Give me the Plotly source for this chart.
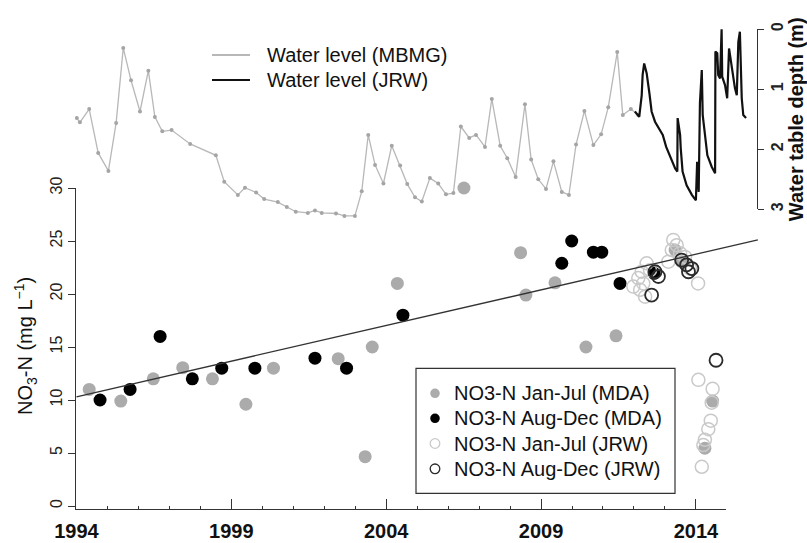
import plotly.graph_objects as go

# ---------------- data ----------------
# Water level, MBMG well (year, depth to water in m)
mbmg_year = [1994.01, 1994.11, 1994.41, 1994.70, 1995.03, 1995.28, 1995.51, 1995.76, 1996.05, 1996.32,
             1996.53, 1996.77, 1997.07, 1997.67, 1998.50, 1998.77, 1999.21, 1999.44, 1999.80, 2000.06,
             2000.50, 2000.79, 2001.08, 2001.47, 2001.70, 2001.92, 2002.38, 2002.65, 2002.99, 2003.21,
             2003.42, 2003.64, 2003.91, 2004.18, 2004.45, 2004.68, 2004.93, 2005.15, 2005.41, 2005.68,
             2005.93, 2006.17, 2006.41, 2006.68, 2006.90, 2007.19, 2007.41, 2007.68, 2007.91, 2008.18,
             2008.48, 2008.68, 2008.91, 2009.16, 2009.40, 2009.67, 2009.90, 2010.13, 2010.40, 2010.69,
             2010.94, 2011.17, 2011.46, 2011.64, 2011.90, 2012.14]
mbmg_depth = [1.48, 1.55, 1.33, 2.06, 2.36, 1.56, 0.31, 0.85, 1.37, 0.69,
              1.46, 1.70, 1.68, 1.91, 2.10, 2.54, 2.76, 2.64, 2.72, 2.83,
              2.88, 2.96, 3.04, 3.06, 3.02, 3.06, 3.07, 3.11, 3.11, 2.70,
              1.76, 2.26, 2.57, 1.94, 2.27, 2.58, 2.80, 2.87, 2.48, 2.57,
              2.75, 2.73, 1.62, 1.81, 1.76, 1.96, 1.16, 1.94, 2.15, 2.46,
              1.25, 2.17, 2.50, 2.66, 2.20, 2.71, 2.76, 1.92, 1.36, 1.93,
              1.75, 1.30, 0.38, 1.43, 1.33, 1.43]

# Water level, JRW logger
jrw_year = [2012.03, 2012.17, 2012.25, 2012.28, 2012.33, 2012.41, 2012.50, 2012.57, 2012.68, 2012.84,
            2012.93, 2013.04, 2013.16, 2013.33, 2013.40, 2013.41, 2013.49, 2013.51, 2013.57, 2013.70,
            2013.87, 2014.00, 2014.04, 2014.09, 2014.13, 2014.19, 2014.22, 2014.30, 2014.37, 2014.51,
            2014.62, 2014.63, 2014.69, 2014.72, 2014.78, 2014.83, 2014.85, 2014.94, 2015.01, 2015.07,
            2015.16, 2015.26, 2015.32, 2015.37, 2015.42, 2015.45, 2015.48, 2015.53, 2015.62]
jrw_depth = [1.37, 1.46, 1.10, 0.76, 0.57, 0.73, 1.07, 1.37, 1.54, 1.68,
             1.76, 1.96, 2.10, 2.32, 2.37, 1.48, 1.76, 1.98, 2.37, 2.60,
             2.76, 2.85, 2.21, 2.71, 1.23, 0.68, 1.43, 1.82, 2.10, 2.29,
             2.40, 0.37, 0.40, 0.76, 0.82, 0.00, 0.79, 0.93, 1.15, 0.32,
             0.65, 0.98, 1.10, 0.21, 0.04, 0.60, 1.15, 1.43, 1.48]

# NO3-N (mg/L)
mda_jj_year = [1994.41, 1995.43, 1996.48, 1997.43, 1998.39, 1999.47, 2000.36, 2002.45, 2003.32, 2003.55,
               2004.36, 2006.51, 2008.34, 2008.51, 2009.45, 2010.45, 2011.42, 2013.33, 2013.54, 2015.37,
               2014.54, 2014.29]
mda_jj_val = [11.0, 9.9, 12.0, 13.05, 12.0, 9.6, 13.0, 13.9, 4.65, 15.0,
              21.0, 30.0, 23.9, 19.9, 21.05, 15.0, 16.05, 24.15, 23.05, 21.05,
              9.9, 5.45]

mda_ad_year = [1994.76, 1995.73, 1996.70, 1997.74, 1998.69, 1999.76, 2001.70, 2002.72, 2004.54, 2009.67,
               2009.99, 2010.69, 2010.96, 2011.55, 2012.65, 2015.62]
mda_ad_val = [10.0, 11.0, 16.0, 12.0, 13.0, 13.0, 13.95, 13.0, 18.0, 22.9,
              25.0, 23.95, 23.95, 21.0, 21.95, 19.9]

jrw_jj_year = [2012.41, 2012.25, 2012.52, 2012.14, 2012.30, 2011.98, 2012.20, 2012.36, 2013.27, 2013.38,
               2013.22, 2013.49, 2013.11, 2013.65, 2013.81, 2014.07, 2015.19, 2015.40, 2015.48, 2014.08,
               2014.54, 2014.51, 2014.48, 2014.40, 2014.29, 2014.24, 2014.19]
jrw_jj_val = [22.9, 22.1, 22.25, 21.5, 21.0, 20.7, 20.4, 19.75, 25.1, 24.6,
              24.15, 23.85, 23.05, 23.5, 22.4, 21.0, 18.9, 18.2, 17.0, 11.9,
              11.05, 9.75, 8.05, 7.25, 6.25, 5.75, 3.7]

jrw_ad_year = [2012.57, 2012.68, 2012.79, 2013.54, 2013.70, 2013.76, 2013.87, 2014.65, 2015.59]
jrw_ad_val = [19.9, 22.1, 21.65, 23.2, 22.75, 22.1, 22.4, 13.75, 20.55]

# linear trend of NO3-N
trend_year = [1994.0, 2016.0]
trend_val = [10.3, 25.1]

x_tick_years = [1994, 1999, 2004, 2009, 2014]
x_minor_years = [y for y in range(1995, 2014) if (y - 1994) % 5]
no3_ticks = [0, 5, 10, 15, 20, 25, 30]
depth_ticks = [0, 1, 2, 3]

# ---------------- layout geometry (pixels) ----------------
W, H = 807, 543
PX_1994, PX_PER_YR = 76.5, 30.97
def yr_at(px):
    return 1994 + (px - PX_1994) / PX_PER_YR
NO3_0_PX, PX_PER_MG = 506.0, 10.6
def no3_at(py):
    return (NO3_0_PX - py) / PX_PER_MG
D0_PX, PX_PER_M = 29.3, 60.0
def depth_at(py):
    return (py - D0_PX) / PX_PER_M
def fx(px):
    return px / W
def fy(py):
    return 1 - py / H

FONT = "Liberation Sans, Arial, sans-serif"
AX = "#333333"

MBMG_COLOR = "#b8b8b8"
JRW_COLOR = "#111111"

fig = go.Figure()

# water levels (top panel)
fig.add_trace(go.Scatter(x=mbmg_year, y=mbmg_depth, mode="lines+markers", name="Water level (MBMG)",
                         line=dict(color=MBMG_COLOR, width=1.3),
                         marker=dict(size=4, color="#a5a5a5"),
                         xaxis="x2", yaxis="y2", showlegend=False))
fig.add_trace(go.Scatter(x=jrw_year, y=jrw_depth, mode="lines", name="Water level (JRW)",
                         line=dict(color=JRW_COLOR, width=2.2),
                         xaxis="x2", yaxis="y2", showlegend=False))
# dummy for display depth axis
fig.add_trace(go.Scatter(x=[None], y=[None], xaxis="x2", yaxis="y3", showlegend=False, hoverinfo="skip"))

# trend line
fig.add_trace(go.Scatter(x=trend_year, y=trend_val, mode="lines", showlegend=False,
                         line=dict(color="#333333", width=1.3), xaxis="x2", yaxis="y"))

MS = 13
series = [
    (mda_jj_year, mda_jj_val, "NO3-N Jan-Jul (MDA)", "circle", "#ababab", 0),
    (mda_ad_year, mda_ad_val, "NO3-N Aug-Dec (MDA)", "circle", "#000000", 0),
    (jrw_jj_year, jrw_jj_val, "NO3-N Jan-Jul (JRW)", "circle-open", "#c9c9c9", 1.5),
    (jrw_ad_year, jrw_ad_val, "NO3-N Aug-Dec (JRW)", "circle-open", "#2a2a2a", 1.8),
]
for xs, ys, nm, sym, col, lw in series:
    fig.add_trace(go.Scatter(x=xs, y=ys, mode="markers", name=nm, showlegend=False,
                             marker=dict(size=MS, symbol=sym, color=col, line=dict(width=lw, color=col)),
                             cliponaxis=False, xaxis="x", yaxis="y"))

# ---------------- legends (drawn by hand) ----------------
shapes = []
annotations = []
# NO3 legend box
shapes.append(dict(type="rect", xref="paper", yref="paper", x0=fx(416), x1=fx(675), y0=fy(493.3), y1=fy(368.3),
                   fillcolor="white", line=dict(color=AX, width=1.2), layer="above"))
rows = [393.3, 418.3, 443.5, 468.8]
r = 4.8
for (xs, ys, nm, sym, col, lw), ry in zip(series, rows):
    filled = sym == "circle"
    shapes.append(dict(type="circle", xref="paper", yref="paper",
                       x0=fx(435 - r), x1=fx(435 + r), y0=fy(ry + r), y1=fy(ry - r),
                       fillcolor=col if filled else "rgba(0,0,0,0)",
                       line=dict(color=col, width=0 if filled else 1.3), layer="above"))
    annotations.append(dict(text=nm, xref="paper", yref="paper", x=fx(452), y=fy(ry),
                            xanchor="left", yanchor="middle", showarrow=False,
                            font=dict(size=20, color="#111111", family=FONT)))
# water level legend
for nm, col, ry in [("Water level (MBMG)", MBMG_COLOR, 55), ("Water level (JRW)", JRW_COLOR, 80)]:
    shapes.append(dict(type="line", xref="paper", yref="paper", x0=fx(212), x1=fx(250), y0=fy(ry), y1=fy(ry),
                       line=dict(color=col, width=2), layer="above"))
    annotations.append(dict(text=nm, xref="paper", yref="paper", x=fx(265), y=fy(ry),
                            xanchor="left", yanchor="middle", showarrow=False,
                            font=dict(size=20, color="#111111", family=FONT)))

# y-axis title (left)
annotations.append(dict(text="NO<sub>3</sub>-N (mg L<sup>\u22121</sup>)", xref="paper", yref="paper",
                        x=fx(25), y=fy(346), xanchor="center", yanchor="middle", textangle=-90,
                        showarrow=False, font=dict(size=20, color="#111111", family=FONT)))

fig.update_layout(
    width=W, height=H, autosize=False,
    margin=dict(l=0, r=0, t=0, b=0),
    paper_bgcolor="white", plot_bgcolor="rgba(0,0,0,0)",
    font=dict(family=FONT, color="#111111"),
    showlegend=False,
    shapes=shapes, annotations=annotations,
    xaxis=dict(domain=[fx(76), fx(726)], range=[yr_at(76), yr_at(726)], anchor="y",
               showline=True, linecolor=AX, linewidth=1.2, showgrid=False, zeroline=False,
               tickmode="array", tickvals=x_tick_years, ticks="inside", ticklen=10, tickcolor=AX,
               tickwidth=1.2, tickfont=dict(size=20, weight="bold", color="#111111"),
               ticklabelstandoff=4,
               minor=dict(tickmode="array", tickvals=x_minor_years, ticks="inside", ticklen=3,
                          tickcolor=AX, tickwidth=1, showgrid=False),
               automargin=False),
    xaxis2=dict(domain=[0, 1], range=[yr_at(0), yr_at(W)], anchor="y2", visible=False),
    yaxis=dict(domain=[fy(509.3), fy(188)], range=[no3_at(509.3), no3_at(188)], anchor="x",
               showline=True, linecolor=AX, linewidth=1.2, showgrid=False, zeroline=False,
               tickmode="array", tickvals=no3_ticks, ticks="outside", ticklen=7, tickcolor=AX,
               tickangle=-90, tickfont=dict(size=16, color="#222222"), ticklabelstandoff=0,
               automargin=False),
    yaxis2=dict(domain=[fy(226), fy(18)], range=[depth_at(226), depth_at(18)], anchor="x2",
                visible=False),
    yaxis3=dict(domain=[fy(209.3), fy(29.3)], range=[3, 0], anchor="free", position=756.7 / W,
                side="right", showline=True, linecolor=AX, linewidth=1.2, showgrid=False, zeroline=False,
                tickmode="array", tickvals=depth_ticks, ticks="outside", ticklen=6, tickcolor=AX,
                tickangle=-90, tickfont=dict(size=16, weight="bold", color="#222222"),
                title=dict(text="Water table depth (m)", font=dict(size=20, weight="bold"), standoff=4),
                automargin=False),
)

fig.write_html("out.html")
